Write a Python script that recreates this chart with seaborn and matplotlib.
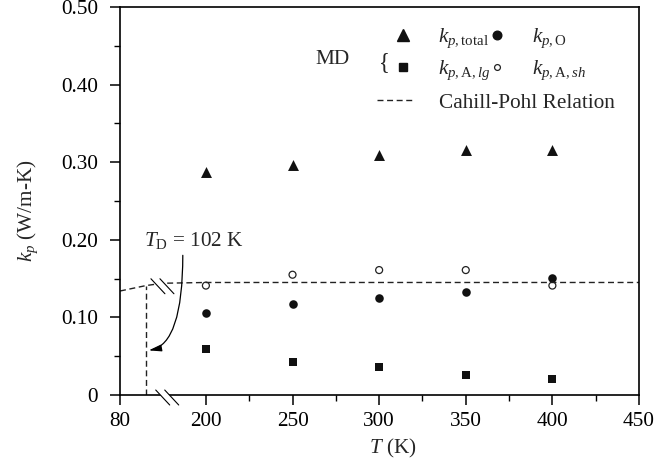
import numpy as np
import matplotlib
matplotlib.use("Agg")
import matplotlib.pyplot as plt
import seaborn as sns
from matplotlib.lines import Line2D
from matplotlib.patches import Polygon
from matplotlib.transforms import ScaledTranslation
import matplotlib.ticker as mticker

# ---- data -------------------------------------------------------------
temperature = [200, 250, 300, 350, 400]
kp_total = [0.288, 0.297, 0.309, 0.316, 0.316]
kp_optical = [0.106, 0.117, 0.125, 0.133, 0.151]
kp_acoustic_lg = [0.059, 0.043, 0.036, 0.026, 0.021]
kp_acoustic_sh = [0.141, 0.155, 0.161, 0.161, 0.141]

cp_temperature = [80, 91, 102, 116, 200, 250, 300, 350, 400, 450]
cp_kp = [0.134, 0.1375, 0.141, 0.144, 0.145, 0.145, 0.145, 0.145, 0.145, 0.145]

debye_temperature = 102
debye_arrow_kp = 0.057

x_major_ticks = [80, 200, 250, 300, 350, 400, 450]
x_minor_ticks = [225, 275, 325, 375, 425]
y_major_ticks = [0, 0.1, 0.2, 0.3, 0.4, 0.5]
y_tick_labels = ["0", "0.10", "0.20", "0.30", "0.40", "0.50"]

# ---- style ------------------------------------------------------------
sns.set_style("ticks")
plt.rcParams["font.family"] = ["Liberation Serif", "DejaVu Serif"]
plt.rcParams["mathtext.fontset"] = "custom"
plt.rcParams["mathtext.rm"] = "Liberation Serif"
plt.rcParams["mathtext.it"] = "Liberation Serif:italic"
plt.rcParams["mathtext.bf"] = "Liberation Serif:bold"
FS = 15.3

# broken temperature axis: 80-120 K stretched, 120-180 K squeezed, 180-450 K linear
knots_t = np.array([80.0, 120.0, 180.0, 450.0])
knots_u = np.array([0.0, 47.2, 51.3, 519.5])
slope_lo = (knots_u[1] - knots_u[0]) / (knots_t[1] - knots_t[0])
slope_hi = (knots_u[-1] - knots_u[-2]) / (knots_t[-1] - knots_t[-2])


def fwd(t):
    t = np.asarray(t, dtype=float)
    out = np.interp(t, knots_t, knots_u)
    out = np.where(t < knots_t[0], knots_u[0] + (t - knots_t[0]) * slope_lo, out)
    out = np.where(t > knots_t[-1], knots_u[-1] + (t - knots_t[-1]) * slope_hi, out)
    return out


def inv(u):
    u = np.asarray(u, dtype=float)
    out = np.interp(u, knots_u, knots_t)
    out = np.where(u < knots_u[0], knots_t[0] + (u - knots_u[0]) / slope_lo, out)
    out = np.where(u > knots_u[-1], knots_t[-1] + (u - knots_u[-1]) / slope_hi, out)
    return out


fig = plt.figure(figsize=(6.6, 4.7), dpi=100)
ax = fig.add_axes([120 / 660, 75 / 470, 519 / 660, 388 / 470])
ax.set_xscale("function", functions=(fwd, inv))

# ---- marks ------------------------------------------------------------
dash = (0, (4.3, 2.6))
sns.lineplot(x=cp_temperature, y=cp_kp, ax=ax, color="#222222", lw=1.0,
             linestyle=dash, sort=False, zorder=2)
cp_at_debye = float(np.interp(debye_temperature, cp_temperature, cp_kp))
ax.vlines(debye_temperature, 0, cp_at_debye, colors="#222222", lw=1.0,
          linestyles=[dash], zorder=2)

sns.scatterplot(x=temperature, y=kp_total, ax=ax, marker="^", s=62,
                color="#111111", edgecolor="#111111", linewidth=0, zorder=4)
sns.scatterplot(x=temperature, y=kp_optical, ax=ax, marker="o", s=38,
                color="#111111", edgecolor="#111111", linewidth=0, zorder=4)
sns.scatterplot(x=temperature, y=kp_acoustic_lg, ax=ax, marker="s", s=36,
                color="#111111", edgecolor="#111111", linewidth=0, zorder=4)
sns.scatterplot(x=temperature, y=kp_acoustic_sh, ax=ax, marker="o", s=25,
                facecolor="none", edgecolor="#222222", linewidth=0.9, zorder=4)

# ---- axes -------------------------------------------------------------
ax.set_xlim(80, 450)
ax.set_ylim(0, 0.5)
ax.set_xticks(x_major_ticks)
ax.set_xticks(x_minor_ticks, minor=True)
ax.xaxis.set_major_formatter(mticker.FixedFormatter([str(v) for v in x_major_ticks]))
ax.xaxis.set_minor_formatter(mticker.NullFormatter())
ax.set_yticks(y_major_ticks, y_tick_labels)
ax.yaxis.set_minor_locator(mticker.MultipleLocator(0.05))
ax.tick_params(axis="both", which="major", direction="out", length=7, width=1.1,
               labelsize=FS, color="black", labelcolor="black")
ax.tick_params(axis="both", which="minor", direction="out", length=4.5, width=1.0,
               color="black")
ax.tick_params(axis="y", which="major", pad=9)
ax.tick_params(axis="x", which="major", pad=5)
for side in ["left", "right", "top", "bottom"]:
    ax.spines[side].set_visible(True)
    ax.spines[side].set_linewidth(1.2)
    ax.spines[side].set_color("black")

ax.set_xlabel(r"$T$ (K)", fontsize=FS)
ax.set_ylabel(r"$k_p$ (W/m-K)", fontsize=FS)
ax.xaxis.set_label_coords(0.526, -0.108)
ax.yaxis.set_label_coords(-0.155, 0.475)


# ---- break marks ----------------------------------------------------------
def break_mark(x, y, dy_px=0.0):
    tr = fig.dpi_scale_trans + ScaledTranslation(x, y, ax.transData)
    px = 1.0 / fig.dpi
    half = np.array([7.0, -7.5]) * px
    c1 = np.array([-4.5, dy_px]) * px
    c2 = np.array([4.5, dy_px]) * px
    mask = Polygon([c1 - half, c1 + half, c2 + half, c2 - half], closed=True,
                   transform=tr, facecolor="white", edgecolor="none",
                   zorder=5, clip_on=False)
    ax.add_patch(mask)
    for c in (c1, c2):
        seg = np.array([c - half, c + half])
        ax.add_line(Line2D(seg[:, 0], seg[:, 1], transform=tr, color="black",
                           lw=0.8, zorder=6, clip_on=False))


break_mark(121, 0.0, dy_px=-2.5)
break_mark(116, float(np.interp(116, cp_temperature, cp_kp)), dy_px=-3.0)

# ---- Debye temperature annotation -----------------------------------------
ax.text(0.046, 0.384, rf"$T_\mathrm{{D}}$ = {debye_temperature} K",
        transform=ax.transAxes, fontsize=FS, ha="left", va="baseline")
ax.annotate("", xy=(debye_temperature, debye_arrow_kp), xycoords="data",
            xytext=(0.121, 0.36), textcoords="axes fraction",
            arrowprops=dict(arrowstyle="-|>,head_length=0.75,head_width=0.2",
                            connectionstyle="angle3,angleA=90,angleB=5",
                            color="black", lw=0.9, shrinkA=0, shrinkB=2))

# ---- legend -------------------------------------------------------------
mk = dict(ls="none", color="#111111", mec="#111111")
h_total = Line2D([], [], marker="^", ms=8.0, **mk)
h_opt = Line2D([], [], marker="o", ms=6.2, **mk)
h_lg = Line2D([], [], marker="s", ms=5.8, **mk)
h_sh = Line2D([], [], marker="o", ms=4.2, ls="none", mfc="none", mec="#222222", mew=0.9)
leg1 = ax.legend([h_total, h_lg, h_opt, h_sh],
                 [r"$k_{p,\mathrm{total}}$", r"$k_{p,\mathrm{A},lg}$",
                  r"$k_{p,\mathrm{O}}$", r"$k_{p,\mathrm{A},sh}$"],
                 ncol=2, loc="upper left", bbox_to_anchor=(397 / 660, 1 - 27 / 470),
                 bbox_transform=fig.transFigure, frameon=False, fontsize=FS,
                 handlelength=0.6, handletextpad=1.35, columnspacing=0.0,
                 labelspacing=0.4, borderpad=0, borderaxespad=0)
ax.add_artist(leg1)
h_cp = Line2D([], [], color="#222222", lw=1.0, linestyle=dash)
ax.legend([h_cp], ["Cahill-Pohl Relation"], loc="upper left",
          bbox_to_anchor=(377 / 660, 1 - 93 / 470), bbox_transform=fig.transFigure,
          frameon=False, fontsize=FS, handlelength=1.8, handletextpad=1.1,
          borderpad=0, borderaxespad=0)

fig.text(315 / 660, 1 - 59 / 470, "MD", fontsize=FS, ha="left", va="center")
fig.text(384 / 660, 1 - 63 / 470, "{", fontsize=FS + 1, ha="center", va="center")

fig.savefig("out.png", dpi=100)
